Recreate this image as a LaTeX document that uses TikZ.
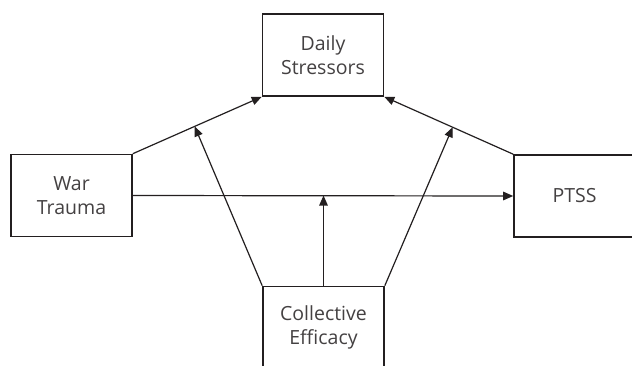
\documentclass[tikz,border=0pt]{standalone}
\usepackage{fontspec}
\setmainfont{Open Sans}
\usetikzlibrary{arrows.meta,calc}
\definecolor{ink}{HTML}{231F20}
\begin{document}
\begin{tikzpicture}[x=1pt,y=1pt,
  box/.style={draw=ink,line width=1.6pt,minimum width=121pt,minimum height=82pt,inner sep=0pt,align=center,
    font=\fontsize{19.5}{24}\selectfont,text=ink!85},
  link/.style={draw=ink,line width=1.2pt,-{Triangle[length=10pt,width=8.5pt]}}]
\useasboundingbox (0,0) rectangle (632,-365);
\clip (0,0) rectangle (632,-365);
\fill[white] (0,0) rectangle (632,-365);
\node[box] (daily) at (323,-55) {Daily\\Stressors};
\node[box] (war) at (71.5,-195.5) {War\\Trauma};
\node[box] (ptss) at (574.5,-196) {PTSS};
\node[box] (coll) at (323.5,-327.5) {Collective\\Efficacy};
\draw[link] (war.north east) -- (daily.south west);
\draw[link] (ptss.north west) -- (daily.south east);
\draw[link] (war.east) -- (ptss.west);
\coordinate (m1) at ($(war.north east)!0.48!(daily.south west)$);
\coordinate (m2) at ($(ptss.north west)!0.47!(daily.south east)$);
\coordinate (m3) at (coll.north |- war.east);
\draw[link] (coll.north west) -- (m1);
\draw[link] (coll.north east) -- (m2);
\draw[link] (coll.north) -- (m3);
\end{tikzpicture}
\end{document}
